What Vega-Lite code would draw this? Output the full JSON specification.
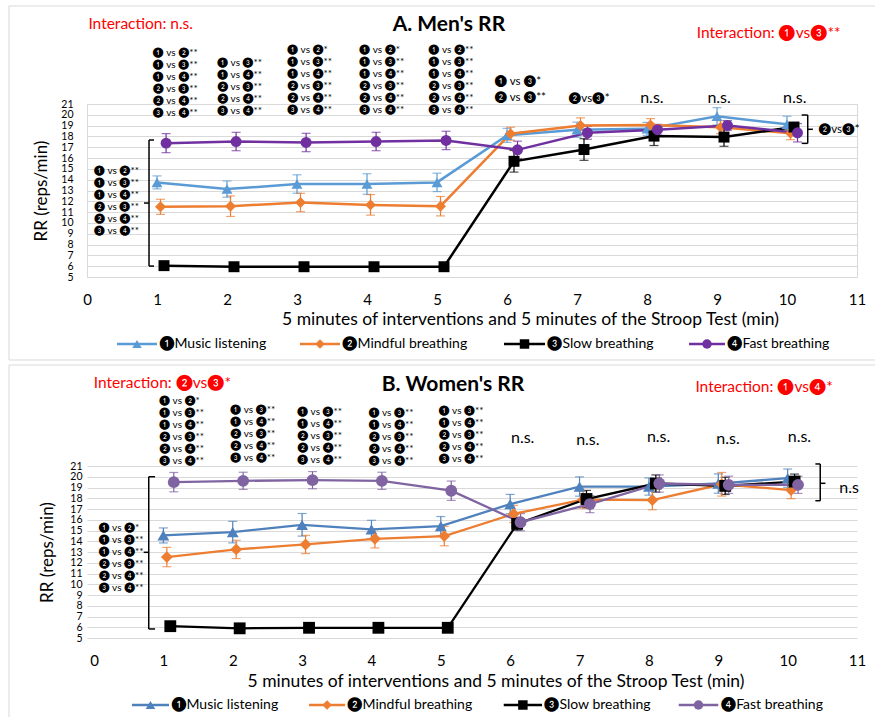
{
  "$schema": "https://vega.github.io/schema/vega-lite/v6.json",
  "background": "white",
  "padding": {"left": 7, "top": 5, "right": 0, "bottom": 0},
  "spacing": 3,
  "config": {
    "font": "Lato",
    "view": {"stroke": "#d9d9d9"},
    "axis": {"labelColor": "#000", "titleColor": "#000", "labelFont": "Lato", "titleFont": "Lato"}
  },
  "datasets": {
    "a_data": [
      {"g": "❶Music listening", "x": 1, "y": 13.75, "e": 0.6},
      {"g": "❶Music listening", "x": 2, "y": 13.13, "e": 0.75},
      {"g": "❶Music listening", "x": 3, "y": 13.6, "e": 0.85},
      {"g": "❶Music listening", "x": 4, "y": 13.6, "e": 0.95},
      {"g": "❶Music listening", "x": 5, "y": 13.75, "e": 0.85},
      {"g": "❶Music listening", "x": 6, "y": 18.1, "e": 0.65},
      {"g": "❶Music listening", "x": 7, "y": 18.62, "e": 0.7},
      {"g": "❶Music listening", "x": 8, "y": 18.7, "e": 0.6},
      {"g": "❶Music listening", "x": 9, "y": 19.86, "e": 0.8},
      {"g": "❶Music listening", "x": 10, "y": 19.12, "e": 0.75},
      {"g": "❷Mindful breathing", "x": 1.05, "y": 11.49, "e": 0.7},
      {"g": "❷Mindful breathing", "x": 2.05, "y": 11.55, "e": 0.95},
      {"g": "❷Mindful breathing", "x": 3.05, "y": 11.89, "e": 0.85},
      {"g": "❷Mindful breathing", "x": 4.05, "y": 11.67, "e": 0.95},
      {"g": "❷Mindful breathing", "x": 5.05, "y": 11.55, "e": 0.9},
      {"g": "❷Mindful breathing", "x": 6.05, "y": 18.25, "e": 0.6},
      {"g": "❷Mindful breathing", "x": 7.05, "y": 19.02, "e": 0.7},
      {"g": "❷Mindful breathing", "x": 8.05, "y": 19.05, "e": 0.6},
      {"g": "❷Mindful breathing", "x": 9.05, "y": 18.85, "e": 0.6},
      {"g": "❷Mindful breathing", "x": 10.05, "y": 18.3, "e": 0.6},
      {"g": "❸Slow breathing", "x": 1.1, "y": 6.05, "e": 0.1},
      {"g": "❸Slow breathing", "x": 2.1, "y": 5.95, "e": 0.1},
      {"g": "❸Slow breathing", "x": 3.1, "y": 5.95, "e": 0.1},
      {"g": "❸Slow breathing", "x": 4.1, "y": 5.95, "e": 0.1},
      {"g": "❸Slow breathing", "x": 5.1, "y": 5.95, "e": 0.1},
      {"g": "❸Slow breathing", "x": 6.1, "y": 15.7, "e": 1.0},
      {"g": "❸Slow breathing", "x": 7.1, "y": 16.79, "e": 1.0},
      {"g": "❸Slow breathing", "x": 8.1, "y": 18.03, "e": 0.87},
      {"g": "❸Slow breathing", "x": 9.1, "y": 17.94, "e": 0.85},
      {"g": "❸Slow breathing", "x": 10.1, "y": 18.87, "e": 0.4},
      {"g": "❹Fast breathing", "x": 1.13, "y": 17.38, "e": 0.88},
      {"g": "❹Fast breathing", "x": 2.13, "y": 17.53, "e": 0.85},
      {"g": "❹Fast breathing", "x": 3.13, "y": 17.44, "e": 0.85},
      {"g": "❹Fast breathing", "x": 4.13, "y": 17.53, "e": 0.85},
      {"g": "❹Fast breathing", "x": 5.13, "y": 17.63, "e": 0.85},
      {"g": "❹Fast breathing", "x": 6.15, "y": 16.76, "e": 0.8},
      {"g": "❹Fast breathing", "x": 7.15, "y": 18.34, "e": 0.6},
      {"g": "❹Fast breathing", "x": 8.15, "y": 18.62, "e": 0.5},
      {"g": "❹Fast breathing", "x": 9.15, "y": 19.02, "e": 0.45},
      {"g": "❹Fast breathing", "x": 10.15, "y": 18.34, "e": 0.85}
    ],
    "b_data": [
      {"g": "❶Music listening", "x": 1, "y": 14.54, "e": 0.7},
      {"g": "❶Music listening", "x": 2, "y": 14.85, "e": 1.0},
      {"g": "❶Music listening", "x": 3, "y": 15.53, "e": 1.05},
      {"g": "❶Music listening", "x": 4, "y": 15.1, "e": 0.85},
      {"g": "❶Music listening", "x": 5, "y": 15.4, "e": 0.9},
      {"g": "❶Music listening", "x": 6, "y": 17.46, "e": 0.9},
      {"g": "❶Music listening", "x": 7, "y": 19.09, "e": 0.9},
      {"g": "❶Music listening", "x": 8, "y": 19.09, "e": 0.8},
      {"g": "❶Music listening", "x": 9, "y": 19.37, "e": 0.9},
      {"g": "❶Music listening", "x": 10, "y": 19.87, "e": 0.85},
      {"g": "❷Mindful breathing", "x": 1.05, "y": 12.53, "e": 0.9},
      {"g": "❷Mindful breathing", "x": 2.05, "y": 13.24, "e": 0.85},
      {"g": "❷Mindful breathing", "x": 3.05, "y": 13.7, "e": 0.85},
      {"g": "❷Mindful breathing", "x": 4.05, "y": 14.23, "e": 0.85},
      {"g": "❷Mindful breathing", "x": 5.05, "y": 14.48, "e": 0.9},
      {"g": "❷Mindful breathing", "x": 6.05, "y": 16.54, "e": 0.8},
      {"g": "❷Mindful breathing", "x": 7.05, "y": 17.87, "e": 0.8},
      {"g": "❷Mindful breathing", "x": 8.05, "y": 17.83, "e": 0.9},
      {"g": "❷Mindful breathing", "x": 9.05, "y": 19.3, "e": 1.1},
      {"g": "❷Mindful breathing", "x": 10.05, "y": 18.76, "e": 0.8},
      {"g": "❸Slow breathing", "x": 1.1, "y": 6.1, "e": 0.1},
      {"g": "❸Slow breathing", "x": 2.1, "y": 5.9, "e": 0.1},
      {"g": "❸Slow breathing", "x": 3.1, "y": 5.95, "e": 0.1},
      {"g": "❸Slow breathing", "x": 4.1, "y": 5.95, "e": 0.1},
      {"g": "❸Slow breathing", "x": 5.1, "y": 5.95, "e": 0.1},
      {"g": "❸Slow breathing", "x": 6.1, "y": 15.62, "e": 0.6},
      {"g": "❸Slow breathing", "x": 7.1, "y": 17.93, "e": 0.8},
      {"g": "❸Slow breathing", "x": 8.1, "y": 19.37, "e": 0.8},
      {"g": "❸Slow breathing", "x": 9.1, "y": 19.15, "e": 0.8},
      {"g": "❸Slow breathing", "x": 10.1, "y": 19.55, "e": 0.7},
      {"g": "❹Fast breathing", "x": 1.15, "y": 19.5, "e": 0.9},
      {"g": "❹Fast breathing", "x": 2.15, "y": 19.62, "e": 0.8},
      {"g": "❹Fast breathing", "x": 3.15, "y": 19.68, "e": 0.8},
      {"g": "❹Fast breathing", "x": 4.15, "y": 19.62, "e": 0.8},
      {"g": "❹Fast breathing", "x": 5.15, "y": 18.7, "e": 0.9},
      {"g": "❹Fast breathing", "x": 6.15, "y": 15.77, "e": 0.8},
      {"g": "❹Fast breathing", "x": 7.15, "y": 17.46, "e": 0.8},
      {"g": "❹Fast breathing", "x": 8.15, "y": 19.37, "e": 0.8},
      {"g": "❹Fast breathing", "x": 9.15, "y": 19.25, "e": 0.8},
      {"g": "❹Fast breathing", "x": 10.15, "y": 19.25, "e": 0.8}
    ],
    "a_leg": [
      {"g": "❶Music listening", "x": 0.714, "x1": 0.4286, "x2": 1.0, "xt": 1.0286, "y": -1.196},
      {"g": "❷Mindful breathing", "x": 3.329, "x1": 3.043, "x2": 3.614, "xt": 3.643, "y": -1.196},
      {"g": "❸Slow breathing", "x": 6.25, "x1": 5.957, "x2": 6.543, "xt": 6.571, "y": -1.196},
      {"g": "❹Fast breathing", "x": 8.857, "x1": 8.6, "x2": 9.114, "xt": 9.143, "y": -1.196}
    ],
    "b_leg": [
      {"g": "❶Music listening", "x": 0.814, "x1": 0.548, "x2": 1.081, "xt": 1.11, "y": -1.233},
      {"g": "❷Mindful breathing", "x": 3.36, "x1": 3.1, "x2": 3.62, "xt": 3.648, "y": -1.233},
      {"g": "❸Slow breathing", "x": 6.183, "x1": 5.907, "x2": 6.459, "xt": 6.488, "y": -1.233},
      {"g": "❹Fast breathing", "x": 8.715, "x1": 8.43, "x2": 9.0, "xt": 9.035, "y": -1.233}
    ],
    "a_frame": [
      {"x": -1.1143, "x2": 11.2857, "y": 30.063, "y2": 30.063},
      {"x": -1.1143, "x2": 11.2857, "y": -2.676, "y2": -2.676},
      {"x": -1.1143, "x2": -1.1143, "y": 30.063, "y2": -2.676}
    ],
    "b_frame": [
      {"x": -1.2255, "x2": 11.288, "y": 30.395, "y2": 30.395},
      {"x": -1.2255, "x2": -1.2255, "y": 30.395, "y2": -2.349}
    ],
    "a_brk": [
      {"x": 0.886, "x2": 0.886, "y": 17.67, "y2": 6.01},
      {"x": 0.886, "x2": 0.957, "y": 17.67, "y2": 17.67},
      {"x": 0.886, "x2": 0.957, "y": 6.01, "y2": 6.01},
      {"x": 0.814, "x2": 0.886, "y": 11.84, "y2": 11.84},
      {"x": 10.296, "x2": 10.296, "y": 19.98, "y2": 17.36},
      {"x": 10.21, "x2": 10.296, "y": 19.98, "y2": 19.98},
      {"x": 10.21, "x2": 10.296, "y": 17.36, "y2": 17.36},
      {"x": 10.296, "x2": 10.37, "y": 18.66, "y2": 18.66}
    ],
    "b_brk": [
      {"x": 0.789, "x2": 0.789, "y": 20.0, "y2": 5.84},
      {"x": 0.789, "x2": 0.88, "y": 20.0, "y2": 20.0},
      {"x": 0.789, "x2": 0.88, "y": 5.84, "y2": 5.84},
      {"x": 0.716, "x2": 0.789, "y": 12.97, "y2": 12.97},
      {"x": 10.47, "x2": 10.47, "y": 21.19, "y2": 17.77},
      {"x": 10.40, "x2": 10.47, "y": 21.19, "y2": 21.19},
      {"x": 10.40, "x2": 10.47, "y": 17.77, "y2": 17.77},
      {"x": 10.47, "x2": 10.545, "y": 19.39, "y2": 19.39}
    ],
    "a_title": [{"x": 5.17, "y": 28.35, "t": "A. Men's RR"}],
    "b_title": [{"x": 5.176, "y": 28.53, "t": "B. Women's RR"}],
    "a_red": [
      {"x": 0.02, "y": 28.4, "t": "Interaction: n.s."},
      {"x": 8.71, "y": 27.54, "t": "Interaction: ❶vs❸**"}
    ],
    "b_red": [
      {"x": -0.004, "y": 28.69, "t": "Interaction: ❷vs❸*"},
      {"x": 8.67, "y": 28.38, "t": "Interaction: ❶vs❹*"}
    ],
    "a_cols": [
      {"x": 0.94, "y": 26.22, "t": "❶ vs ❷**\n❶ vs ❸**\n❶ vs ❹**\n❷ vs ❸**\n❷ vs ❹**\n❸ vs ❹**"},
      {"x": 1.86, "y": 25.23, "t": "❶ vs ❸**\n❶ vs ❹**\n❷ vs ❸**\n❷ vs ❹**\n❸ vs ❹**"},
      {"x": 2.86, "y": 26.47, "t": "❶ vs ❷*\n❶ vs ❸**\n❶ vs ❹**\n❷ vs ❸**\n❷ vs ❹**\n❸ vs ❹**"},
      {"x": 3.89, "y": 26.47, "t": "❶ vs ❷*\n❶ vs ❸**\n❶ vs ❹**\n❷ vs ❸**\n❷ vs ❹**\n❸ vs ❹**"},
      {"x": 4.88, "y": 26.47, "t": "❶ vs ❷**\n❶ vs ❸**\n❶ vs ❹**\n❷ vs ❸**\n❷ vs ❹**\n❸ vs ❹**"},
      {"x": 0.1, "y": 15.3, "t": "❶ vs ❷**\n❶ vs ❸**\n❶ vs ❹**\n❷ vs ❸**\n❷ vs ❹**\n❸ vs ❹**"}
    ],
    "b_cols": [
      {"x": 0.94, "y": 27.48, "t": "❶ vs ❷*\n❶ vs ❸**\n❶ vs ❹**\n❷ vs ❸**\n❷ vs ❹**\n❸ vs ❹**"},
      {"x": 1.966, "y": 26.68, "t": "❶ vs ❸**\n❶ vs ❹**\n❷ vs ❸**\n❷ vs ❹**\n❸ vs ❹**"},
      {"x": 2.93, "y": 26.46, "t": "❶ vs ❸**\n❶ vs ❹**\n❷ vs ❸**\n❷ vs ❹**\n❸ vs ❹**"},
      {"x": 3.96, "y": 26.37, "t": "❶ vs ❸**\n❶ vs ❹**\n❷ vs ❸**\n❷ vs ❹**\n❸ vs ❹**"},
      {"x": 4.97, "y": 26.62, "t": "❶ vs ❸**\n❶ vs ❹**\n❷ vs ❸**\n❷ vs ❹**\n❸ vs ❹**"},
      {"x": 0.068, "y": 15.67, "t": "❶ vs ❷*\n❶ vs ❸**\n❶ vs ❹**\n❷ vs ❸**\n❷ vs ❹**\n❸ vs ❹**"}
    ],
    "a_mid": [
      {"x": 5.82, "y": 23.59, "t": "❶ vs ❸*\n❷ vs ❸**"},
      {"x": 6.88, "y": 22.02, "t": "❷vs❸*"},
      {"x": 10.45, "y": 19.12, "t": "❷vs❸*"}
    ],
    "a_ns": [
      {"x": 8.07, "y": 21.6, "t": "n.s."},
      {"x": 9.03, "y": 21.6, "t": "n.s."},
      {"x": 10.11, "y": 21.6, "t": "n.s."}
    ],
    "b_ns": [
      {"x": 6.18, "y": 23.6, "t": "n.s."},
      {"x": 7.12, "y": 23.42, "t": "n.s."},
      {"x": 8.14, "y": 23.7, "t": "n.s."},
      {"x": 9.14, "y": 23.5, "t": "n.s."},
      {"x": 10.17, "y": 23.7, "t": "n.s."},
      {"x": 10.885, "y": 18.98, "t": "n.s"}
    ]
  },
  "resolve": {
    "scale": {"x": "independent", "y": "independent", "color": "independent", "shape": "independent"}
  },
  "vconcat": [
    {
      "width": 770,
      "height": 173,
      "encoding": {
        "x": {
          "field": "x", "type": "quantitative",
          "scale": {"domain": [0, 11], "nice": false, "zero": false},
          "axis": {
            "values": [0, 1, 2, 3, 4, 5, 6, 7, 8, 9, 10, 11],
            "title": "5 minutes of interventions and 5 minutes of the Stroop Test (min)",
            "grid": false, "ticks": false, "domain": false,
            "labelFontSize": 15, "labelPadding": 15, "labelFlush": false, "labelOverlap": false,
            "titleFontSize": 17.5, "titleFontWeight": "normal",
            "titleX": 443, "titleY": 42, "titleBaseline": "middle", "titleAlign": "center"
          }
        },
        "y": {
          "field": "y", "type": "quantitative",
          "scale": {"domain": [5, 21], "nice": false, "zero": false},
          "axis": {
            "values": [5, 6, 7, 8, 9, 10, 11, 12, 13, 14, 15, 16, 17, 18, 19, 20, 21],
            "title": "RR (reps/min)",
            "grid": true, "gridColor": "#d9d9d9", "ticks": false, "domain": false,
            "labelFontSize": 10.5, "labelPadding": 14, "labelFlush": false, "labelOverlap": false,
            "titleFontSize": 17, "titleFontWeight": "normal",
            "titleX": -45.5, "titleBaseline": "middle"
          }
        }
      },
      "layer": [
        {
          "data": {"name": "a_frame"},
          "mark": {"type": "rule", "color": "#d9d9d9", "strokeWidth": 1},
          "encoding": {"x2": {"field": "x2"}, "y2": {"field": "y2"}}
        },
        {
          "data": {"values": [{}]},
          "mark": {"type": "rule", "color": "#7030A0", "strokeWidth": 2},
          "encoding": {
            "x": {"datum": 5.514, "type": "quantitative"},
            "y": {"datum": 5, "type": "quantitative"},
            "y2": {"datum": 21}
          }
        },
        {
          "data": {"name": "a_data"},
          "mark": {"type": "errorbar", "ticks": true, "size": 9, "thickness": 1.2},
          "encoding": {
            "yError": {"field": "e"},
            "color": {"field": "g", "type": "nominal", "legend": null,
              "scale": {"domain": ["❶Music listening", "❷Mindful breathing", "❸Slow breathing", "❹Fast breathing"], "range": ["#5B9BD5", "#ED7D31", "#000000", "#7030A0"]}}
          }
        },
        {
          "data": {"name": "a_data"},
          "mark": {"type": "line", "strokeWidth": 2.5},
          "encoding": {
            "color": {"field": "g", "type": "nominal", "legend": null,
              "scale": {"domain": ["❶Music listening", "❷Mindful breathing", "❸Slow breathing", "❹Fast breathing"], "range": ["#5B9BD5", "#ED7D31", "#000000", "#7030A0"]}}
          }
        },
        {
          "data": {"name": "a_data"},
          "mark": {"type": "point", "filled": true, "opacity": 1, "size": 120, "strokeWidth": 0},
          "encoding": {
            "shape": {"field": "g", "type": "nominal", "legend": null,
              "scale": {"domain": ["❶Music listening", "❷Mindful breathing", "❸Slow breathing", "❹Fast breathing"], "range": ["triangle-up", "diamond", "square", "circle"]}},
            "color": {"field": "g", "type": "nominal", "legend": null,
              "scale": {"domain": ["❶Music listening", "❷Mindful breathing", "❸Slow breathing", "❹Fast breathing"], "range": ["#5B9BD5", "#ED7D31", "#000000", "#7030A0"]}}
          }
        },
        {
          "data": {"name": "a_leg"},
          "mark": {"type": "rule", "strokeWidth": 2.5},
          "encoding": {
            "x": {"field": "x1", "type": "quantitative"},
            "x2": {"field": "x2"},
            "color": {"field": "g", "type": "nominal", "legend": null}
          }
        },
        {
          "data": {"name": "a_leg"},
          "mark": {"type": "point", "filled": true, "opacity": 1, "size": 90, "strokeWidth": 0},
          "encoding": {
            "shape": {"field": "g", "type": "nominal", "legend": null},
            "color": {"field": "g", "type": "nominal", "legend": null}
          }
        },
        {
          "data": {"name": "a_leg"},
          "mark": {"type": "text", "align": "left", "baseline": "middle", "fontSize": 14, "color": "#000"},
          "encoding": {
            "x": {"field": "xt", "type": "quantitative"},
            "text": {"field": "g"}
          }
        },
        {
          "data": {"name": "a_brk"},
          "mark": {"type": "rule", "color": "#000", "strokeWidth": 1.5},
          "encoding": {"x2": {"field": "x2"}, "y2": {"field": "y2"}}
        },
        {
          "data": {"name": "a_title"},
          "mark": {"type": "text", "align": "center", "baseline": "middle", "fontSize": 21, "fontWeight": "bold", "color": "#000"},
          "encoding": {"text": {"field": "t"}}
        },
        {
          "data": {"name": "a_red"},
          "mark": {"type": "text", "align": "left", "baseline": "middle", "fontSize": 15.5, "color": "#FF0000"},
          "encoding": {"text": {"field": "t"}}
        },
        {
          "data": {"name": "a_cols"},
          "mark": {"type": "text", "align": "left", "baseline": "top", "fontSize": 10, "lineBreak": "\n", "lineHeight": 12, "color": "#000"},
          "encoding": {"text": {"field": "t"}}
        },
        {
          "data": {"name": "a_mid"},
          "mark": {"type": "text", "align": "left", "baseline": "top", "fontSize": 11.5, "lineBreak": "\n", "lineHeight": 16, "color": "#000"},
          "encoding": {"text": {"field": "t"}}
        },
        {
          "data": {"name": "a_ns"},
          "mark": {"type": "text", "align": "center", "baseline": "middle", "fontSize": 16, "color": "#000"},
          "encoding": {"text": {"field": "t"}}
        }
      ]
    },
    {
      "width": 770,
      "height": 172,
      "view": {"stroke": null},
      "encoding": {
        "x": {
          "field": "x", "type": "quantitative",
          "scale": {"domain": [-0.101, 11], "nice": false, "zero": false},
          "axis": {
            "values": [0, 1, 2, 3, 4, 5, 6, 7, 8, 9, 10, 11],
            "title": "5 minutes of interventions and 5 minutes of the Stroop Test (min)",
            "grid": false, "ticks": false, "domain": false,
            "labelFontSize": 15, "labelPadding": 15.5, "labelFlush": false, "labelOverlap": false,
            "titleFontSize": 17.5, "titleFontWeight": "normal",
            "titleX": 408.5, "titleY": 43, "titleBaseline": "middle", "titleAlign": "center"
          }
        },
        "y": {
          "field": "y", "type": "quantitative",
          "scale": {"domain": [5, 21], "nice": false, "zero": false},
          "axis": {
            "values": [5, 6, 7, 8, 9, 10, 11, 12, 13, 14, 15, 16, 17, 18, 19, 20, 21],
            "title": "RR (reps/min)",
            "grid": true, "gridColor": "#d9d9d9", "ticks": false, "domain": false,
            "labelFontSize": 10.5, "labelPadding": 5, "labelFlush": false, "labelOverlap": false,
            "titleFontSize": 17, "titleFontWeight": "normal",
            "titleX": -39.5, "titleBaseline": "middle"
          }
        }
      },
      "layer": [
        {
          "data": {"name": "b_frame"},
          "mark": {"type": "rule", "color": "#d9d9d9", "strokeWidth": 1},
          "encoding": {"x2": {"field": "x2"}, "y2": {"field": "y2"}}
        },
        {
          "data": {"values": [{}]},
          "mark": {"type": "rect", "fill": "white", "stroke": null},
          "encoding": {
            "x": {"datum": -0.101, "type": "quantitative"},
            "x2": {"datum": 0},
            "y": {"datum": 4.9, "type": "quantitative"},
            "y2": {"datum": 21.1}
          }
        },
        {
          "data": {"values": [{}]},
          "mark": {"type": "rect", "fill": "transparent", "stroke": "#d9d9d9", "strokeWidth": 1},
          "encoding": {
            "x": {"datum": 0, "type": "quantitative"},
            "x2": {"datum": 11},
            "y": {"datum": 5, "type": "quantitative"},
            "y2": {"datum": 21}
          }
        },
        {
          "data": {"values": [{}]},
          "mark": {"type": "rule", "color": "#7030A0", "strokeWidth": 2},
          "encoding": {
            "x": {"datum": 5.604, "type": "quantitative"},
            "y": {"datum": 5, "type": "quantitative"},
            "y2": {"datum": 21}
          }
        },
        {
          "data": {"name": "b_data"},
          "mark": {"type": "errorbar", "ticks": true, "size": 9, "thickness": 1.2},
          "encoding": {
            "yError": {"field": "e"},
            "color": {"field": "g", "type": "nominal", "legend": null,
              "scale": {"domain": ["❶Music listening", "❷Mindful breathing", "❸Slow breathing", "❹Fast breathing"], "range": ["#4F81BD", "#ED7D31", "#000000", "#8064A2"]}}
          }
        },
        {
          "data": {"name": "b_data"},
          "mark": {"type": "line", "strokeWidth": 2.3},
          "encoding": {
            "color": {"field": "g", "type": "nominal", "legend": null,
              "scale": {"domain": ["❶Music listening", "❷Mindful breathing", "❸Slow breathing", "❹Fast breathing"], "range": ["#4F81BD", "#ED7D31", "#000000", "#8064A2"]}}
          }
        },
        {
          "data": {"name": "b_data"},
          "mark": {"type": "point", "filled": true, "opacity": 1, "size": 140, "strokeWidth": 0},
          "encoding": {
            "shape": {"field": "g", "type": "nominal", "legend": null,
              "scale": {"domain": ["❶Music listening", "❷Mindful breathing", "❸Slow breathing", "❹Fast breathing"], "range": ["triangle-up", "diamond", "square", "circle"]}},
            "color": {"field": "g", "type": "nominal", "legend": null,
              "scale": {"domain": ["❶Music listening", "❷Mindful breathing", "❸Slow breathing", "❹Fast breathing"], "range": ["#4F81BD", "#ED7D31", "#000000", "#8064A2"]}}
          }
        },
        {
          "data": {"name": "b_leg"},
          "mark": {"type": "rule", "strokeWidth": 2.5},
          "encoding": {
            "x": {"field": "x1", "type": "quantitative"},
            "x2": {"field": "x2"},
            "color": {"field": "g", "type": "nominal", "legend": null}
          }
        },
        {
          "data": {"name": "b_leg"},
          "mark": {"type": "point", "filled": true, "opacity": 1, "size": 90, "strokeWidth": 0},
          "encoding": {
            "shape": {"field": "g", "type": "nominal", "legend": null},
            "color": {"field": "g", "type": "nominal", "legend": null}
          }
        },
        {
          "data": {"name": "b_leg"},
          "mark": {"type": "text", "align": "left", "baseline": "middle", "fontSize": 14, "color": "#000"},
          "encoding": {
            "x": {"field": "xt", "type": "quantitative"},
            "text": {"field": "g"}
          }
        },
        {
          "data": {"name": "b_brk"},
          "mark": {"type": "rule", "color": "#000", "strokeWidth": 1.5},
          "encoding": {"x2": {"field": "x2"}, "y2": {"field": "y2"}}
        },
        {
          "data": {"name": "b_title"},
          "mark": {"type": "text", "align": "center", "baseline": "middle", "fontSize": 21, "fontWeight": "bold", "color": "#000"},
          "encoding": {"text": {"field": "t"}}
        },
        {
          "data": {"name": "b_red"},
          "mark": {"type": "text", "align": "left", "baseline": "middle", "fontSize": 15.5, "color": "#FF0000"},
          "encoding": {"text": {"field": "t"}}
        },
        {
          "data": {"name": "b_cols"},
          "mark": {"type": "text", "align": "left", "baseline": "top", "fontSize": 10, "lineBreak": "\n", "lineHeight": 12, "color": "#000"},
          "encoding": {"text": {"field": "t"}}
        },
        {
          "data": {"name": "b_ns"},
          "mark": {"type": "text", "align": "center", "baseline": "middle", "fontSize": 16, "color": "#000"},
          "encoding": {"text": {"field": "t"}}
        }
      ]
    }
  ]
}
